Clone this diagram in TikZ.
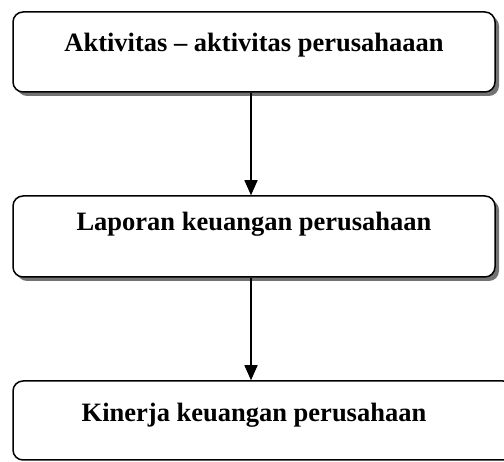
\documentclass[tikz,border=0pt]{standalone}
\usepackage{fontspec}
\setmainfont{Liberation Serif}
\usetikzlibrary{arrows.meta,shadows}
\tikzset{
  flowbox/.style={draw=black, line width=1.5pt, rounded corners=10pt, fill=white, inner sep=0pt},
  shadowed/.style={drop shadow={shadow xshift=4pt, shadow yshift=-4pt, fill=black!55, opacity=1}},
  boxtext/.style={anchor=base, inner sep=0pt, font=\bfseries\fontsize{26.5}{30}\selectfont},
  flowarrow/.style={line width=1.5pt, -{Triangle[width=13pt,length=15pt]}}
}
\begin{document}
\begin{tikzpicture}[x=1pt,y=1pt]
\useasboundingbox (0,0) rectangle (504,462);
\clip (0,0) rectangle (504,462);
\node[flowbox, shadowed, minimum width=482pt, minimum height=80pt] (b1) at (254,410) {};
\node[flowbox, shadowed, minimum width=482pt, minimum height=81pt] (b2) at (254,225.5) {};
\node[flowbox, minimum width=500pt, minimum height=79pt] (b3) at (263,41.5) {};
\node[boxtext] (t1) at (254,410) {Aktivitas -- aktivitas perusahaaan};
\node[boxtext] (t2) at (254,231) {Laporan keuangan perusahaan};
\node[boxtext] (t3) at (254,40) {Kinerja keuangan perusahaan};
\draw[flowarrow] (b1.south -| 251,0) -- (b2.north -| 251,0);
\draw[flowarrow] (b2.south -| 251,0) -- (b3.north -| 251,0);
\end{tikzpicture}
\end{document}
